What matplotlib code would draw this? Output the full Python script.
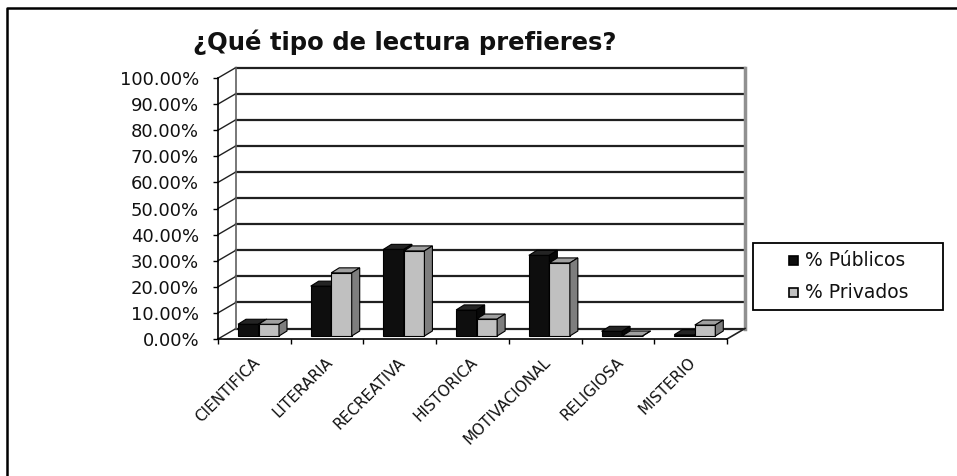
import matplotlib
matplotlib.use("Agg")
import matplotlib.pyplot as plt
from matplotlib.patches import Polygon, Rectangle
from matplotlib.lines import Line2D
import numpy as np

categories = ["CIENTIFICA", "LITERARIA", "RECREATIVA", "HISTORICA",
              "MOTIVACIONAL", "RELIGIOSA", "MISTERIO"]
publicos = [4.5, 19.1, 33.2, 10.0, 30.9, 1.8, 0.5]
privados = [4.5, 24.2, 32.6, 6.5, 28.0, 0.0, 4.2]
series_names = ["% Públicos", "% Privados"]
y_ticks = list(range(0, 101, 10))
title = "¿Qué tipo de lectura prefieres?"

W, H = 957, 476
fig = plt.figure(figsize=(W / 100, H / 100), dpi=100)
fig.patch.set_facecolor("white")

# front plane of the 3d box, in pixels
x0, x1, y0, y1 = 218, 727, 339, 78
ax = fig.add_axes([x0 / W, 1 - y0 / H, (x1 - x0) / W, (y0 - y1) / H])
n = len(categories)
ax.set_xlim(0, n)
ax.set_ylim(0, 100)
CW = (x1 - x0) / n      # px per category
PP = (y0 - y1) / 100.0  # px per percent

# wall depth and bar geometry (px -> data)
DX, DY = 18 / CW, 10.5 / PP
bw = 20.5 / CW
gap0 = 15 / CW
BX, BY = 5 / CW, 3 / PP
bdx, bdy = 8 / CW, 5 / PP

for s in ["top", "right"]:
    ax.spines[s].set_visible(False)
ax.spines["left"].set_color("black")
ax.spines["bottom"].set_color("black")
ax.spines["left"].set_linewidth(1.2)
ax.spines["bottom"].set_linewidth(1.2)

# walls
grid_c = "#202020"
for v in y_ticks:
    ax.plot([DX, n + DX], [v + DY, v + DY], color=grid_c, lw=1.6, clip_on=False, zorder=1)
    ax.plot([0, DX], [v, v + DY], color=grid_c, lw=1.0, clip_on=False, zorder=1)
ax.plot([DX, DX], [DY, 100 + DY], color="#606060", lw=1.2, clip_on=False, zorder=1)
ax.plot([n + DX, n + DX], [DY, 100 + DY], color="#909090", lw=2.5, clip_on=False, zorder=1)
ax.plot([n, n + DX], [0, DY], color=grid_c, lw=1.2, clip_on=False, zorder=1)

# bars
xs = np.arange(n)
left_pub = xs + gap0 + BX
left_priv = left_pub + bw
styles = [("#0e0e0e", "#242424", "#080808"), ("#c0c0c0", "#a0a0a0", "#7e7e7e")]
z = 3
for lefts, vals, (fc, tc, sc) in [(left_pub, publicos, styles[0]),
                                  (left_priv, privados, styles[1])]:
    ax.bar(lefts, vals, width=bw, bottom=BY, align="edge", color=fc,
           edgecolor="black", lw=0.8, zorder=z, clip_on=False)
    for l, v in zip(lefts, vals):
        top = BY + v
        ax.add_patch(Polygon([[l, top], [l + bw, top], [l + bw + bdx, top + bdy],
                              [l + bdx, top + bdy]], closed=True, fc=tc,
                             ec="black", lw=0.8, zorder=z, clip_on=False))
        ax.add_patch(Polygon([[l + bw, BY], [l + bw + bdx, BY + bdy],
                              [l + bw + bdx, top + bdy], [l + bw, top]], closed=True,
                             fc=sc, ec="black", lw=0.8, zorder=z, clip_on=False))
    z += 1

# axes ticks
ax.set_yticks(y_ticks, [f"{v:.2f}%" for v in y_ticks])
ax.tick_params(axis="y", length=3.6, width=1, pad=10, labelsize=13,
               labelcolor="#111111")
ax.set_xticks(range(n + 1))
ax.tick_params(axis="x", length=3.6, width=1, labelbottom=False)
for i, c in enumerate(categories):
    ax.text(i + 0.47, -6.1, c, rotation=45, ha="right", va="top",
            rotation_mode="anchor", fontsize=11,
            family=["Liberation Sans Narrow", "DejaVu Sans"], color="#111111")

# title
fig.text(405 / W, 1 - 42 / H, title, ha="center", va="center",
         fontsize=17.5, fontweight="bold", color="#111111")

# legend box
lx0, ly0, lx1, ly1 = 753, 243, 943, 310
fig.add_artist(Rectangle((lx0 / W, 1 - ly1 / H), (lx1 - lx0) / W, (ly1 - ly0) / H,
                         transform=fig.transFigure, fill=False, ec="black", lw=1.3))
for name, (fc, tc, sc), yc in zip(series_names, styles, [260, 292]):
    fig.add_artist(Rectangle((789 / W, 1 - (yc + 4.5) / H), 9 / W, 9 / H,
                             transform=fig.transFigure, fc=fc, ec="black", lw=1.2))
    fig.text(805 / W, 1 - yc / H, name, ha="left", va="center", fontsize=13.5,
             color="#111111")

# outer frame (only top and left edges visible)
fig.add_artist(Line2D([7 / W, 7 / W, 1], [0, 1 - 8 / H, 1 - 8 / H],
                      transform=fig.transFigure, color="black", lw=1.8))

fig.savefig("out.png", dpi=100)
